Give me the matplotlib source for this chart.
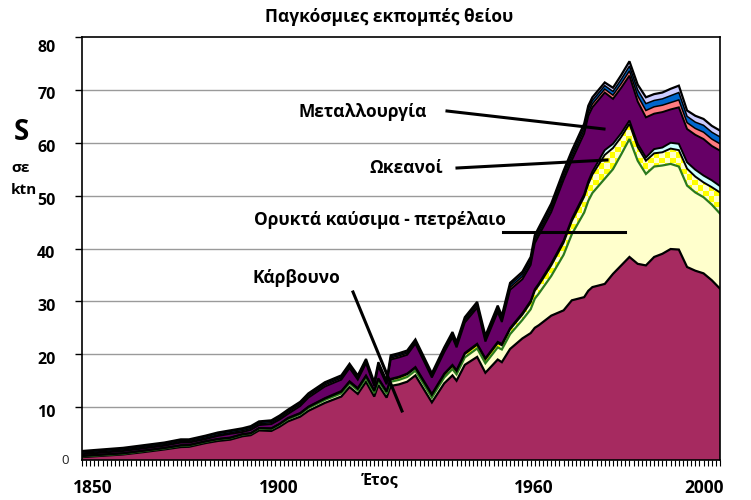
import numpy as np
import matplotlib
matplotlib.use('Agg')
import matplotlib.pyplot as plt
import matplotlib.transforms as mtransforms
from matplotlib.lines import Line2D

plt.rcParams['font.family'] = ['Open Sans', 'DejaVu Sans']

# ---------------- data (kt S) ----------------
years = [1850, 1855, 1860, 1865, 1870, 1874, 1876, 1880, 1883, 1886, 1889, 1891,
         1893, 1896, 1898, 1900, 1903, 1905, 1909, 1913, 1915, 1917, 1919, 1921,
         1922, 1924, 1925, 1927, 1929, 1931, 1935, 1938, 1940, 1941, 1943, 1946,
         1948, 1951, 1952, 1954, 1957, 1959, 1960, 1961, 1964, 1967, 1969, 1972,
         1973, 1974, 1977, 1979, 1981, 1983, 1985, 1987, 1989, 1991, 1993, 1995,
         1997, 1999, 2001, 2003, 2005]

coal = [0.55, 0.8, 1.05, 1.5, 2.0, 2.45, 2.5, 3.2, 3.6, 3.85, 4.5, 4.7,
        5.6, 5.5, 6.3, 7.3, 8.2, 9.3, 10.8, 12.0, 13.8, 12.5, 14.8, 12.0,
        14.2, 11.8, 14.0, 14.3, 14.8, 16.0, 10.9, 14.5, 16.0, 15.0, 18.0, 19.5,
        16.5, 19.0, 18.5, 21.0, 23.0, 24.0, 25.0, 25.5, 27.3, 28.3, 30.2, 30.8,
        32.0, 32.7, 33.3, 35.2, 36.8, 38.4, 37.1, 36.8, 38.4, 39.0, 39.9, 39.8,
        36.5, 35.8, 35.3, 34.0, 32.4]

petroleum = [0.15, 0.15, 0.15, 0.2, 0.2, 0.25, 0.25, 0.25, 0.3, 0.3, 0.3, 0.3,
             0.35, 0.35, 0.4, 0.4, 0.45, 0.5, 0.55, 0.6, 0.65, 0.65, 0.7, 0.7,
             0.75, 0.75, 0.8, 0.85, 0.9, 0.9, 0.9, 1.1, 1.2, 1.2, 1.4, 1.6,
             1.8, 2.3, 2.4, 2.8, 3.5, 4.5, 5.5, 6.0, 7.5, 10.5, 12.5, 16.0,
             17.0, 17.8, 19.9, 19.8, 21.0, 22.3, 19.5, 17.3, 17.1, 16.7, 16.1, 15.7,
             15.4, 14.8, 14.4, 14.3, 14.2]

other_fossil = [0.05, 0.05, 0.05, 0.05, 0.05, 0.05, 0.05, 0.05, 0.05, 0.05, 0.05, 0.05,
                0.05, 0.1, 0.1, 0.15, 0.15, 0.2, 0.25, 0.3, 0.3, 0.3, 0.35, 0.35,
                0.35, 0.35, 0.4, 0.45, 0.5, 0.5, 0.5, 0.55, 0.6, 0.6, 0.65, 0.7,
                0.75, 0.8, 0.8, 0.9, 1.0, 1.3, 1.5, 1.6, 2.0, 2.3, 2.5, 3.0,
                3.2, 3.5, 4.5, 4.0, 3.3, 2.9, 2.6, 2.5, 2.5, 2.5, 2.9, 3.1,
                3.2, 3.0, 2.8, 3.3, 4.0]

oceans = [0.05, 0.05, 0.05, 0.05, 0.05, 0.05, 0.05, 0.05, 0.05, 0.05, 0.05, 0.05,
          0.05, 0.05, 0.05, 0.1, 0.1, 0.1, 0.1, 0.15, 0.15, 0.15, 0.15, 0.15,
          0.15, 0.15, 0.15, 0.15, 0.15, 0.2, 0.2, 0.2, 0.2, 0.2, 0.2, 0.2,
          0.2, 0.25, 0.25, 0.25, 0.3, 0.3, 0.3, 0.3, 0.35, 0.4, 0.4, 0.45,
          0.5, 0.55, 0.9, 0.8, 0.7, 0.6, 0.6, 0.6, 0.8, 0.9, 1.1, 1.2,
          1.2, 1.3, 1.3, 1.3, 1.2]

metallurgy = [0.3, 0.35, 0.4, 0.4, 0.4, 0.5, 0.45, 0.4, 0.55, 0.7, 0.4, 0.6,
              0.55, 0.8, 0.8, 0.75, 1.3, 1.7, 2.2, 2.15, 2.5, 1.6, 2.3, 0.8,
              2.25, 1.25, 3.65, 3.65, 3.55, 4.4, 3.1, 4.05, 5.2, 4.3, 5.75, 6.8,
              3.15, 5.65, 4.15, 7.25, 6.4, 6.8, 8.7, 9.1, 9.75, 11.5, 11.1, 11.5,
              12.4, 12.15, 10.9, 8.5, 8.6, 8.5, 8.0, 7.6, 6.7, 6.7, 6.3, 6.9,
              6.3, 6.6, 6.9, 6.5, 6.7]

source_red = [0.2, 0.2, 0.2, 0.2, 0.2, 0.2, 0.2, 0.2, 0.2, 0.2, 0.25, 0.25,
              0.25, 0.25, 0.25, 0.3, 0.3, 0.3, 0.3, 0.3, 0.3, 0.3, 0.3, 0.25,
              0.3, 0.25, 0.3, 0.3, 0.3, 0.3, 0.3, 0.3, 0.35, 0.35, 0.35, 0.4,
              0.4, 0.4, 0.4, 0.45, 0.5, 0.5, 0.5, 0.5, 0.55, 0.6, 0.6, 0.65,
              0.65, 0.65, 0.65, 0.7, 0.8, 0.9, 1.1, 1.3, 1.3, 1.3, 1.3, 1.4,
              1.2, 1.2, 1.3, 1.3, 1.3]

source_blue = [0.2, 0.2, 0.2, 0.2, 0.2, 0.2, 0.2, 0.25, 0.25, 0.25, 0.25, 0.25,
               0.25, 0.25, 0.25, 0.25, 0.25, 0.25, 0.25, 0.25, 0.25, 0.25, 0.25, 0.25,
               0.25, 0.25, 0.25, 0.25, 0.25, 0.25, 0.25, 0.3, 0.35, 0.35, 0.35, 0.35,
               0.35, 0.4, 0.4, 0.45, 0.5, 0.5, 0.5, 0.5, 0.55, 0.6, 0.6, 0.6,
               0.65, 0.65, 0.65, 0.7, 0.8, 0.9, 1.1, 1.3, 1.2, 1.2, 1.3, 1.4,
               1.2, 1.2, 1.3, 1.3, 1.3]

source_lav = [0.2, 0.2, 0.2, 0.2, 0.2, 0.2, 0.2, 0.2, 0.2, 0.2, 0.2, 0.2,
              0.2, 0.2, 0.25, 0.25, 0.25, 0.25, 0.25, 0.25, 0.25, 0.25, 0.25, 0.2,
              0.25, 0.2, 0.25, 0.25, 0.25, 0.25, 0.25, 0.3, 0.3, 0.3, 0.3, 0.35,
              0.35, 0.4, 0.4, 0.4, 0.4, 0.5, 0.5, 0.5, 0.5, 0.5, 0.6, 0.6,
              0.6, 0.6, 0.6, 0.7, 0.8, 0.9, 1.0, 1.2, 1.2, 1.2, 1.3, 1.3,
              1.1, 1.2, 1.2, 1.2, 1.2]

title = 'Παγκόσμιες εκπομπές θείου'
year_labels = ['1850', '1900', '1960', '2000']
year_label_pos = [1852.7, 1897.9, 1959.7, 2001.1]
ytick_values = [10, 20, 30, 40, 50, 60, 70, 80]
annotations = ['Μεταλλουργία', 'Ωκεανοί', 'Ορυκτά καύσιμα - πετρέλαιο', 'Κάρβουνο']

# ---------------- figure ----------------
W, H = 751, 500
fig = plt.figure(figsize=(W / 100, H / 100), dpi=100)
ax = fig.add_axes([82 / W, 1 - 460 / H, (720 - 82) / W, (460 - 37) / H])

x = np.array(years, dtype=float)
layers = [coal, petroleum, other_fossil, oceans, metallurgy, source_red, source_blue, source_lav]
tops = np.cumsum(np.array(layers, dtype=float), axis=0)
bottoms = np.vstack([np.zeros(len(x)), tops[:-1]])

face = ['#A62A60', '#FFFFCC', '#FFFFCC', '#CCFFFF', '#660066', '#FF7C80', '#0066CC', '#CCCCFF']
edge = ['black', '#2B7A1E', 'black', 'black', 'black', 'black', 'black', 'black']
elw = [1.6, 1.6, 1.4, 1.4, 1.4, 1.1, 1.1, 1.6]

for i in range(len(layers)):
    coll = ax.fill_between(x, bottoms[i], tops[i], facecolor=face[i], edgecolor='none',
                           linewidth=0, zorder=2 + i * 0.01)
    if i == 2:
        # Excel-like "large checkerboard" pattern fill (yellow on light yellow)
        nx, ny = 116, 77
        jj, ii = np.indices((ny, nx))
        chk = ((ii + jj) % 2).astype(bool)
        img = np.ones((ny, nx, 3))
        img[chk] = [1.0, 1.0, 0.0]
        img[~chk] = [1.0, 1.0, 0.8]
        im = ax.imshow(img, extent=(0, 1, 0, 1), transform=ax.transAxes, aspect='auto',
                       interpolation='nearest', zorder=2 + i * 0.01 + 0.001)
        im.set_clip_path(coll.get_paths()[0], ax.transData)

for i in range(len(layers)):
    ax.plot(x, tops[i], color=edge[i], lw=elw[i], zorder=3 + i * 0.01,
            solid_joinstyle='miter')

ax.set_xlim(1850, 2005)
ax.set_ylim(0, 80)

# grid
for v in ytick_values[:-1]:
    ax.axhline(v, color='#9A9A9A', lw=1.0, zorder=0.5)

for s in ax.spines.values():
    s.set_color('black')
    s.set_linewidth(1.2)
    s.set_zorder(5)

# y ticks
ax.set_yticks(ytick_values)
ax.set_yticklabels([str(v) for v in ytick_values], fontsize=11.5, fontweight='bold')
ax.tick_params(axis='y', direction='out', length=5, width=1, pad=14)
off = mtransforms.ScaledTranslation(0, -0.035, fig.dpi_scale_trans)
for lab in ax.get_yticklabels():
    lab.set_transform(lab.get_transform() + off)
ax.get_yticklabels()[-1].set_transform(ax.get_yticklabels()[-1].get_transform()
                                        + mtransforms.ScaledTranslation(0, -0.05, fig.dpi_scale_trans))
ax.text(-0.02, 0, '0', transform=ax.transAxes, ha='right', va='center', fontsize=9.5,
        color='#222222')

# x ticks: yearly minor ticks, labels
ax.set_xticks(np.arange(1850, 2006, 1), minor=True)
ax.tick_params(axis='x', which='minor', direction='out', length=4, width=0.8)
ax.set_xticks(year_label_pos)
ax.set_xticklabels(year_labels, fontsize=12.5, fontweight='bold')
ax.tick_params(axis='x', which='major', length=0, pad=14)
fig.text(380 / W, 1 - 480 / H, 'Έτος', ha='center', va='center', fontsize=11.5,
         fontweight='bold')

# title and y-axis label
fig.text(389 / W, 1 - 17 / H, title, ha='center', va='center', fontsize=12.5, fontweight='bold')
fig.text(21 / W, 1 - 132 / H, 'S', ha='center', va='center', fontsize=20, fontweight='bold')
fig.text(21 / W, 1 - 168 / H, 'σε', ha='center', va='center', fontsize=11, fontweight='bold')
fig.text(24 / W, 1 - 190 / H, 'ktn', ha='center', va='center', fontsize=11, fontweight='bold')

# annotations (text + pointer line, figure pixel coordinates)
ann_text_pos = [(363, 112), (406, 168), (380, 220), (296, 278)]
ann_lines = [((447, 111), (604, 129)), ((457, 168), (607, 160)),
             ((503, 232), (625, 232)), ((353, 292), (402, 411))]
for t, (tx, ty), ((x0, y0), (x1, y1)) in zip(annotations, ann_text_pos, ann_lines):
    fig.text(tx / W, 1 - ty / H, t, ha='center', va='center', fontsize=12.5, fontweight='bold')
    fig.add_artist(Line2D([x0 / W, x1 / W], [1 - y0 / H, 1 - y1 / H], color='black', lw=2.2,
                          transform=fig.transFigure, zorder=10))

fig.savefig('out.png', dpi=100)
